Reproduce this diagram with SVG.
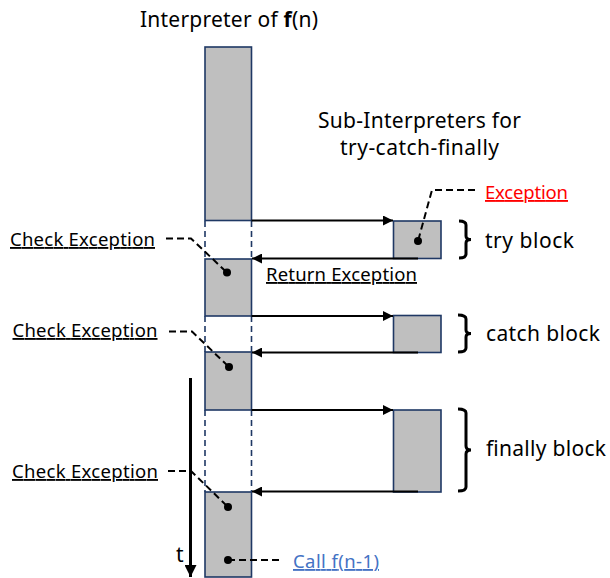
<svg xmlns="http://www.w3.org/2000/svg" width="610" height="578" viewBox="0 0 610 578">
  <style>
    text { font-family: "Noto Sans", "Open Sans", "Noto Sans CJK KR", sans-serif; fill: #000; }
    .lbl { font-size: 18.5px; text-decoration: underline; }
    .big { font-size: 21px; }
    .blk { fill: #bfbfbf; stroke: #1f3864; stroke-width: 1.6; }
    .gap { fill: none; stroke: #1f3864; stroke-width: 1.6; stroke-dasharray: 6 4; }
    .flow { fill: none; stroke: #000; stroke-width: 2; }
    .lead { fill: none; stroke: #000; stroke-width: 2; stroke-dasharray: 7 4; }
    .brace { fill: none; stroke: #000; stroke-width: 3; }
    .dot { fill: #000; }
  </style>
  <defs>
    <marker id="ah" viewBox="0 0 10 10" refX="10" refY="5" markerWidth="10" markerHeight="10" markerUnits="userSpaceOnUse" orient="auto">
      <path d="M0,0 L10,5 L0,10 z" fill="#000"/>
    </marker>
    <marker id="ahT" viewBox="0 0 10 10" refX="10" refY="5" markerWidth="14" markerHeight="12" markerUnits="userSpaceOnUse" orient="auto">
      <path d="M0,0 L10,5 L0,10 z" fill="#000"/>
    </marker>
  </defs>

  <!-- headings -->
  <text class="big" x="140" y="27" textLength="178" lengthAdjust="spacing">Interpreter of <tspan font-weight="bold">f</tspan>(n)</text>
  <text class="big" x="318" y="128" textLength="203" lengthAdjust="spacing">Sub-Interpreters for</text>
  <text class="big" x="340" y="155" textLength="159" lengthAdjust="spacing">try-catch-finally</text>

  <!-- main interpreter timeline -->
  <g id="main-1"><rect class="blk" x="205" y="47" width="46.5" height="173.5"/></g>
  <g id="main-2"><rect class="blk" x="205" y="259" width="46.5" height="57"/></g>
  <g id="main-3"><rect class="blk" x="205" y="352" width="46.5" height="58"/></g>
  <g id="main-4"><rect class="blk" x="205" y="492" width="46.5" height="85"/></g>
  <g id="main-gaps">
    <path class="gap" d="M205,221 V259 M251.5,221 V259 M205,316 V352 M251.5,316 V352 M205,410 V492 M251.5,410 V492"/>
  </g>

  <!-- sub-interpreters -->
  <g id="try-block">
    <rect class="blk" x="393.5" y="221" width="47.5" height="37.5"/>
    <path class="brace" d="M459,221 Q466,221 466,225 V236 Q466,239.5 471,239.5 Q466,239.5 466,243 V254 Q466,258 459,258"/>
    <text class="big" x="485" y="248" textLength="89" lengthAdjust="spacing">try block</text>
  </g>
  <g id="catch-block">
    <rect class="blk" x="393.5" y="315.5" width="47.5" height="37"/>
    <path class="brace" d="M458,315 Q466,315 466,319 V330 Q466,333.5 471,333.5 Q466,333.5 466,337 V348 Q466,352 458,352"/>
    <text class="big" x="486" y="341" textLength="114" lengthAdjust="spacing">catch block</text>
  </g>
  <g id="finally-block">
    <rect class="blk" x="393.5" y="410" width="47.5" height="82"/>
    <path class="brace" d="M458,409 Q466,409 466,413 V446 Q466,450 471,450 Q466,450 466,454 V487 Q466,491 458,491"/>
    <text class="big" x="486" y="456" textLength="120" lengthAdjust="spacing">finally block</text>
  </g>

  <!-- calls and returns -->
  <g id="connectors">
    <path class="flow" d="M251.5,220.5 H393" marker-end="url(#ah)"/>
    <path class="flow" d="M418,258.5 H252" marker-end="url(#ah)"/>
    <path class="flow" d="M251.5,316 H393" marker-end="url(#ah)"/>
    <path class="flow" d="M418,352.5 H252" marker-end="url(#ah)"/>
    <path class="flow" d="M251.5,410 H393" marker-end="url(#ah)"/>
    <path class="flow" d="M418,491.5 H252" marker-end="url(#ah)"/>
    <!-- time axis -->
    <path fill="none" stroke="#000" stroke-width="3" d="M190.5,378 V577" marker-end="url(#ahT)"/>
  </g>

  <!-- annotations -->
  <g id="note-exception">
    <path class="lead" d="M475,190 H432 L418,241"/>
    <circle class="dot" cx="418" cy="241" r="4"/>
    <text class="lbl" x="485" y="199" textLength="83" lengthAdjust="spacing" style="fill:#ff0000">Exception</text>
  </g>
  <g id="note-return">
    <text class="lbl" x="266" y="281" textLength="151" lengthAdjust="spacing">Return Exception</text>
  </g>
  <g id="note-check-1">
    <path class="lead" d="M166,238.5 H191 L227,272.5"/>
    <circle class="dot" cx="227" cy="272.5" r="4"/>
    <text class="lbl" x="10" y="246" textLength="145" lengthAdjust="spacing">Check Exception</text>
  </g>
  <g id="note-check-2">
    <path class="lead" d="M169,331.5 H192 L229,367"/>
    <circle class="dot" cx="229" cy="367" r="4"/>
    <text class="lbl" x="12.5" y="337" textLength="145" lengthAdjust="spacing">Check Exception</text>
  </g>
  <g id="note-check-3">
    <path class="lead" d="M168,471 H191 L228,507"/>
    <circle class="dot" cx="228" cy="507" r="4"/>
    <text class="lbl" x="12" y="478" textLength="146" lengthAdjust="spacing">Check Exception</text>
  </g>
  <g id="note-call">
    <path class="lead" d="M228,560 H280"/>
    <circle class="dot" cx="228" cy="560" r="4"/>
    <text class="lbl" x="293" y="568" textLength="86" lengthAdjust="spacing" style="fill:#4472c4">Call f(n-1)</text>
  </g>
  <text class="big" x="176" y="562">t</text>
</svg>
